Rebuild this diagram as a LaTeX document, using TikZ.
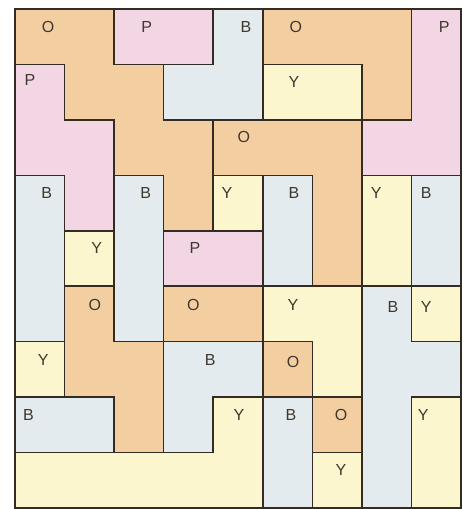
\documentclass[tikz,border=0pt]{standalone}
\usepackage{fontspec}
\setmainfont{Liberation Sans}
\definecolor{cO}{RGB}{243,206,160}
\definecolor{cP}{RGB}{243,214,228}
\definecolor{cB}{RGB}{227,235,238}
\definecolor{cY}{RGB}{251,246,206}
\definecolor{edge}{RGB}{52,44,34}
\definecolor{txt}{RGB}{62,56,46}
\tikzset{
  piece/.style={draw=edge, line width=1.6pt, line join=miter},
  lab/.style={font=\fontsize{16}{16}\selectfont, text=txt, inner sep=0pt}
}
\begin{document}
\begin{tikzpicture}[x=1pt,y=1pt]
\useasboundingbox (0,0) rectangle (466,-509);
\fill[white] (0,0) rectangle (466,-509);
\begin{scope}[shift={(15,-9)}, x=49.55pt, y=-55.44pt]
% orange
\filldraw[piece, fill=cO] (0,0)--(2,0)--(2,1)--(3,1)--(3,2)--(4,2)--(4,4)--(3,4)--(3,3)--(2,3)--(2,2)--(1,2)--(1,1)--(0,1)--cycle;
\filldraw[piece, fill=cO] (5,0)--(8,0)--(8,2)--(7,2)--(7,1)--(5,1)--cycle;
\filldraw[piece, fill=cO] (4,2)--(7,2)--(7,5)--(6,5)--(6,3)--(4,3)--cycle;
\filldraw[piece, fill=cO] (1,5)--(2,5)--(2,6)--(3,6)--(3,8)--(2,8)--(2,7)--(1,7)--cycle;
\filldraw[piece, fill=cO] (3,5) rectangle (5,6);
\filldraw[piece, fill=cO] (5,6) rectangle (6,7);
\filldraw[piece, fill=cO] (6,7) rectangle (7,8);
% pink
\filldraw[piece, fill=cP] (2,0) rectangle (4,1);
\filldraw[piece, fill=cP] (8,0)--(9,0)--(9,3)--(7,3)--(7,2)--(8,2)--cycle;
\filldraw[piece, fill=cP] (0,1)--(1,1)--(1,2)--(2,2)--(2,4)--(1,4)--(1,3)--(0,3)--cycle;
\filldraw[piece, fill=cP] (3,4) rectangle (5,5);
% blue
\filldraw[piece, fill=cB] (4,0)--(5,0)--(5,2)--(3,2)--(3,1)--(4,1)--cycle;
\filldraw[piece, fill=cB] (0,3) rectangle (1,6);
\filldraw[piece, fill=cB] (2,3) rectangle (3,6);
\filldraw[piece, fill=cB] (5,3) rectangle (6,5);
\filldraw[piece, fill=cB] (8,3) rectangle (9,5);
\filldraw[piece, fill=cB] (7,5)--(8,5)--(8,6)--(9,6)--(9,7)--(8,7)--(8,9)--(7,9)--cycle;
\filldraw[piece, fill=cB] (3,6)--(5,6)--(5,7)--(4,7)--(4,8)--(3,8)--cycle;
\filldraw[piece, fill=cB] (0,7) rectangle (2,8);
\filldraw[piece, fill=cB] (5,7) rectangle (6,9);
% yellow
\filldraw[piece, fill=cY] (5,1) rectangle (7,2);
\filldraw[piece, fill=cY] (4,3) rectangle (5,4);
\filldraw[piece, fill=cY] (7,3) rectangle (8,5);
\filldraw[piece, fill=cY] (1,4) rectangle (2,5);
\filldraw[piece, fill=cY] (5,5)--(7,5)--(7,7)--(6,7)--(6,6)--(5,6)--cycle;
\filldraw[piece, fill=cY] (8,5) rectangle (9,6);
\filldraw[piece, fill=cY] (0,6) rectangle (1,7);
\filldraw[piece, fill=cY] (4,7)--(5,7)--(5,9)--(0,9)--(0,8)--(4,8)--cycle;
\filldraw[piece, fill=cY] (8,7) rectangle (9,9);
\filldraw[piece, fill=cY] (6,8) rectangle (7,9);
% labels
\node[lab] (t1) at (0.67,0.32) {O};
\node[lab] (t2) at (2.66,0.32) {P};
\node[lab] (t3) at (4.66,0.32) {B};
\node[lab] (t4) at (5.67,0.32) {O};
\node[lab] (t5) at (8.66,0.32) {P};
\node[lab] (t6) at (0.30,1.28) {P};
\node[lab] (t7) at (5.63,1.31) {Y};
\node[lab] (t8) at (4.62,2.30) {O};
\node[lab] (t9) at (0.64,3.32) {B};
\node[lab] (t10) at (2.64,3.32) {B};
\node[lab] (t11) at (4.28,3.32) {Y};
\node[lab] (t12) at (5.63,3.32) {B};
\node[lab] (t13) at (7.29,3.32) {Y};
\node[lab] (t14) at (8.30,3.32) {B};
\node[lab] (t15) at (1.65,4.31) {Y};
\node[lab] (t16) at (3.63,4.31) {P};
\node[lab] (t17) at (1.61,5.34) {O};
\node[lab] (t18) at (3.60,5.34) {O};
\node[lab] (t19) at (5.61,5.34) {Y};
\node[lab] (t20) at (7.63,5.38) {B};
\node[lab] (t21) at (8.30,5.38) {Y};
\node[lab] (t22) at (0.57,6.33) {Y};
\node[lab] (t23) at (3.94,6.33) {B};
\node[lab] (t24) at (5.61,6.37) {O};
\node[lab] (t25) at (0.27,7.33) {B};
\node[lab] (t26) at (4.52,7.33) {Y};
\node[lab] (t27) at (5.57,7.33) {B};
\node[lab] (t28) at (6.58,7.33) {O};
\node[lab] (t29) at (8.24,7.33) {Y};
\node[lab] (t30) at (6.58,8.32) {Y};
\end{scope}
\end{tikzpicture}
\end{document}
